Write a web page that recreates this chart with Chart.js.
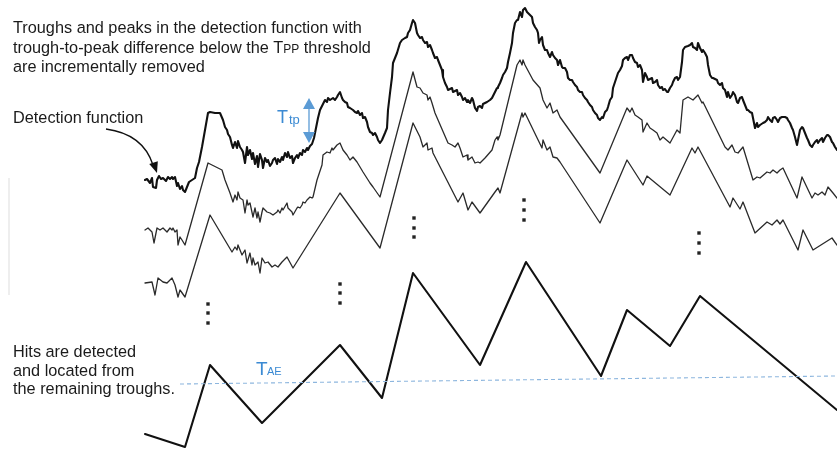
<!DOCTYPE html>
<html>
<head>
<meta charset="utf-8">
<script src="https://cdn.jsdelivr.net/npm/chart.js@4/dist/chart.umd.min.js"></script>
<style>
  html, body { margin: 0; padding: 0; background: #fff; }
</style>
</head>
<body>
<canvas id="myChart" width="837" height="450"></canvas>
<script>
// curves as [sample, level] pairs (level axis runs downward)
const detection = [
  [145,180],[147,179],[150,183],[152,178],[153,187],[156,188],[157,180],[159,176],[161,179],[163,178],
  [166,181],[168,177],[170,179],[172,177],[173,179],[175,177],[177,186],[178,183],[180,189],[182,186],
  [183,190],[185,192],[187,187],[189,182],[192,180],[195,178],[197,168],[199,162],[202,147],[205,130],
  [208,113],[210,112],[215,113],[220,113],[223,120],[225,127],[227,130],[228,134],[230,137],[232,145],
  [233,148],[235,142],[237,148],[238,141],[240,147],[242,150],[243,152],[245,163],[247,147],[248,155],
  [250,150],[252,159],[253,153],[255,164],[257,156],[258,167],[260,154],[262,160],[263,168],[265,158],
  [267,162],[268,160],[270,166],[272,163],[273,160],[275,158],[277,164],[278,159],[280,162],[282,157],
  [283,160],[285,153],[287,157],[288,152],[290,158],[292,156],[293,163],[295,158],[297,155],[298,158],
  [300,153],[302,155],[303,150],[305,152],[307,148],[308,150],[310,146],[312,144],[314,138],[316,128],
  [318,118],[320,110],[322,106],[323,104],[325,100],[327,102],[328,98],[330,100],[333,98],[335,100],
  [337,97],[338,95],[340,92],[342,98],[343,100],[345,102],[347,103],[348,107],[350,108],[353,110],
  [355,112],[357,113],[358,111],[360,115],[362,113],[363,118],[365,117],[367,122],[368,127],[370,132],
  [372,133],[373,135],[375,133],[377,137],[378,140],[380,143],[382,140],[385,133],[387,128],[388,110],
  [390,93],[392,77],[393,63],[397,53],[400,43],[402,40],[405,38],[407,37],[408,33],[410,30],
  [412,23],[413,20],[415,23],[417,33],[418,35],[420,38],[422,37],[423,40],[425,43],[427,42],
  [428,47],[430,45],[432,50],[433,53],[435,58],[437,57],[438,60],[440,65],[442,70],[443,77],
  [445,83],[447,87],[448,90],[452,88],[453,92],[457,90],[458,95],[460,93],[462,97],[463,100],
  [465,98],[467,102],[468,100],[470,103],[472,98],[473,100],[475,108],[477,111],[478,107],[480,106],
  [482,108],[483,104],[485,103],[487,102],[490,100],[492,98],[493,96],[495,92],[497,88],[498,87],
  [500,83],[502,78],[503,75],[505,72],[507,68],[508,62],[510,53],[512,43],[513,33],[515,23],
  [517,20],[518,20],[520,12],[522,17],[523,10],[525,8],[527,12],[528,13],[530,15],[532,17],
  [533,23],[535,27],[537,30],[538,33],[539,43],[540,40],[542,37],[543,45],[545,50],[547,50],
  [548,53],[550,57],[552,52],[553,55],[555,58],[557,60],[558,65],[560,60],[562,67],[563,68],
  [565,68],[567,72],[568,78],[570,80],[572,80],[573,82],[575,85],[577,87],[578,90],[580,92],
  [582,92],[583,95],[585,98],[587,100],[588,102],[590,105],[592,107],[593,110],[595,113],[597,115],
  [598,118],[600,120],[602,117],[603,118],[605,112],[607,110],[608,107],[610,100],[612,97],[613,88],
  [615,82],[618,73],[620,70],[622,66],[623,60],[625,58],[627,57],[628,60],[630,55],[632,55],
  [633,58],[635,62],[637,63],[638,67],[640,65],[642,70],[643,82],[645,73],[647,77],[648,80],
  [652,78],[653,83],[655,82],[657,80],[658,85],[660,88],[662,87],[663,90],[665,89],[667,92],
  [668,92],[670,88],[672,85],[673,82],[675,78],[677,77],[678,80],[680,77],[682,62],[683,50],
  [685,47],[688,46],[690,45],[692,43],[693,47],[695,48],[697,50],[698,43],[700,48],[702,52],
  [703,50],[705,53],[707,57],[708,65],[710,75],[712,78],[713,78],[717,80],[718,83],[720,85],
  [722,83],[723,88],[725,90],[727,97],[728,92],[730,98],[732,95],[733,92],[735,95],[737,102],
  [738,103],[740,98],[742,97],[743,100],[745,105],[747,110],[748,110],[750,112],[752,113],[753,118],
  [755,128],[757,123],[758,127],[760,125],[763,123],[765,122],[767,120],[768,117],[770,120],[772,122],
  [773,118],[775,117],[777,120],[778,122],[780,118],[782,117],[785,117],[787,118],[788,120],[790,123],
  [792,128],[793,130],[795,137],[797,145],[798,140],[800,130],[802,127],[803,128],[805,133],[807,138],
  [808,140],[810,145],[812,147],[813,145],[815,142],[817,140],[818,143],[820,140],[822,138],[823,142],
  [825,138],[827,135],[828,135],[830,137],[832,142],[833,143],[835,147],[837,150]
];

const firstPass = [
  [145,230],[148,228],[152,232],[154,243],[157,228],[160,230],[163,228],[167,232],[170,228],[172,230],
  [173,228],[175,232],[177,230],[178,245],[180,237],[182,240],[185,245],[208,163],[222,170],[225,180],
  [230,193],[233,202],[235,195],[237,200],[238,192],[240,198],[243,200],[245,213],[247,200],[248,205],
  [250,203],[253,217],[255,208],[257,218],[258,212],[260,222],[262,212],[263,208],[267,212],[270,213],
  [273,215],[277,212],[278,210],[280,213],[282,208],[283,210],[287,203],[288,208],[292,212],[293,215],
  [297,208],[298,207],[300,208],[302,205],[303,202],[305,203],[307,200],[310,197],[312,198],[313,197],
  [317,180],[322,165],[323,155],[327,152],[330,153],[332,148],[333,150],[337,145],[340,143],[343,150],
  [347,155],[350,160],[353,157],[357,162],[363,172],[370,183],[373,187],[380,197],[413,72],[417,87],
  [420,88],[423,93],[427,95],[428,100],[430,97],[432,103],[435,113],[448,143],[452,145],[455,147],
  [458,143],[460,148],[463,157],[467,155],[468,160],[472,157],[475,163],[478,162],[480,163],[485,158],
  [492,150],[495,140],[497,137],[498,140],[500,135],[517,65],[520,60],[522,65],[523,60],[525,65],
  [533,80],[540,88],[543,100],[547,108],[550,103],[553,113],[557,110],[560,117],[600,173],[627,108],
  [630,112],[632,108],[635,115],[638,117],[642,120],[643,132],[647,123],[650,128],[653,130],[657,133],
  [660,140],[663,137],[670,143],[677,130],[680,133],[683,100],[688,97],[693,100],[698,95],[702,103],
  [703,102],[725,147],[728,150],[732,145],[735,152],[738,153],[743,147],[753,180],[757,177],[760,178],
  [767,172],[770,173],[773,170],[777,173],[780,170],[783,168],[797,198],[802,177],[812,198],[815,193],
  [818,195],[822,192],[825,195],[828,187],[833,193],[837,198]
];

const secondPass = [
  [145,283],[152,282],[155,295],[158,278],[163,282],[167,283],[172,278],[175,285],[178,297],[180,290],
  [185,297],[210,215],[232,252],[235,247],[237,250],[238,245],[242,255],[245,250],[247,263],[250,253],
  [252,265],[253,258],[255,265],[258,262],[260,273],[262,258],[265,263],[268,262],[272,267],[275,265],
  [278,267],[282,262],[287,257],[293,268],[340,193],[380,248],[413,123],[420,137],[423,147],[427,143],
  [428,150],[432,148],[433,153],[458,202],[463,193],[468,210],[472,202],[480,213],[495,192],[498,188],
  [500,193],[522,113],[523,117],[525,113],[542,148],[543,140],[547,150],[550,147],[553,157],[557,158],
  [560,162],[600,223],[627,160],[643,185],[647,176],[670,195],[692,148],[695,153],[698,147],[730,207],
  [733,198],[740,209],[743,202],[755,233],[767,222],[772,225],[777,220],[780,224],[783,220],[798,250],
  [803,230],[813,250],[832,238],[837,245]
];

const hits = [
  [145,434],[185,447],[210,365],[262,423],[340,345],[382,398],[413,273],
  [480,365],[526,262],[601,376],[627,310],[670,346],[700,296],[837,410]
];

const thresholdAE = [[180,384],[837,376]];

// vertical ellipses between the stages
const dotsX = [208, 208, 208, 340, 340, 340, 414, 414, 414, 524, 524, 524, 699, 699, 699];
const dotsY = [304, 313, 323, 284, 293, 303, 218, 228, 237, 200, 210, 220, 233, 243, 253];

// Ttp arrow: sample, top level, bottom level
const ttpArrow = [309, 98, 143];

const toPoints = arr => arr.map(([x, y]) => ({ x, y }));

const FONT = "'Liberation Sans', Arial, sans-serif";
const BLUE = "#3b8ad3";

function drawArrowHead(ctx, x, y, angle, len, half) {
  ctx.beginPath();
  ctx.moveTo(x, y);
  ctx.lineTo(x - len * Math.cos(angle) + half * Math.sin(angle), y - len * Math.sin(angle) - half * Math.cos(angle));
  ctx.lineTo(x - len * Math.cos(angle) - half * Math.sin(angle), y - len * Math.sin(angle) + half * Math.cos(angle));
  ctx.closePath();
  ctx.fill();
}

const annotations = {
  id: "annotations",
  afterDraw(chart) {
    const { ctx, scales } = chart;
    const sx = v => scales.x.getPixelForValue(v);
    const sy = v => scales.y.getPixelForValue(v);
    ctx.save();

    // faint scan edge on the left
    ctx.strokeStyle = "#e8e8e8";
    ctx.lineWidth = 1.5;
    ctx.beginPath();
    ctx.moveTo(9, 178);
    ctx.lineTo(9, 295);
    ctx.stroke();

    ctx.fillStyle = "#1b1b1b";
    ctx.textBaseline = "alphabetic";
    ctx.font = "16.3px " + FONT;
    ctx.fillText("Troughs and peaks in the detection function with", 13, 33);
    let line2 = "trough-to-peak difference below the T";
    ctx.fillText(line2, 13, 53);
    let w = ctx.measureText(line2).width;
    ctx.font = "12px " + FONT;
    ctx.fillText("PP", 13 + w, 53);
    w += ctx.measureText("PP").width;
    ctx.font = "16.3px " + FONT;
    ctx.fillText(" threshold", 13 + w, 53);
    ctx.fillText("are incrementally removed", 13, 72);

    ctx.fillText("Detection function", 13, 123);

    ctx.fillText("Hits are detected", 13, 357);
    ctx.fillText("and located from", 13, 376);
    ctx.fillText("the remaining troughs.", 13, 394);

    // curved pointer to the detection function
    ctx.strokeStyle = "#111";
    ctx.fillStyle = "#111";
    ctx.lineWidth = 1.4;
    ctx.beginPath();
    ctx.moveTo(106, 129);
    ctx.quadraticCurveTo(143, 134, 153, 165);
    ctx.stroke();
    drawArrowHead(ctx, 157, 173, Math.atan2(9, 3), 11, 4.5);

    // Ttp double arrow
    const ax = sx(ttpArrow[0]);
    const top = sy(ttpArrow[1]);
    const bot = sy(ttpArrow[2]);
    ctx.strokeStyle = "#5b9bd5";
    ctx.fillStyle = "#5b9bd5";
    ctx.lineWidth = 1.3;
    ctx.beginPath();
    ctx.moveTo(ax, top + 8);
    ctx.lineTo(ax, bot - 8);
    ctx.stroke();
    drawArrowHead(ctx, ax, top, -Math.PI / 2, 11, 6);
    drawArrowHead(ctx, ax, bot, Math.PI / 2, 11, 6);

    ctx.fillStyle = BLUE;
    ctx.font = "18px " + FONT;
    ctx.fillText("T", 277, 123);
    ctx.font = "13px " + FONT;
    ctx.fillText("tp", 289, 124);

    ctx.font = "19px " + FONT;
    ctx.fillText("T", 256, 375);
    ctx.font = "11px " + FONT;
    ctx.fillText("AE", 267, 375);

    ctx.restore();
  }
};

document.addEventListener("DOMContentLoaded", () => {
  const ctx = document.getElementById("myChart");

  if (!ctx) {
    console.error("Canvas element 'myChart' not found");
    return;
  }

  const line = (data, color, width) => ({
    data: toPoints(data),
    showLine: true,
    borderColor: color,
    borderWidth: width,
    pointRadius: 0,
    pointHoverRadius: 0,
    fill: false,
    tension: 0,
    clip: false,
    borderJoinStyle: "round",
    borderCapStyle: "round"
  });

  new Chart(ctx, {
    type: "scatter",
    data: {
      datasets: [
        Object.assign(line(thresholdAE, "#8db6de", 1.1), { borderDash: [4, 3], borderCapStyle: "butt" }),
        line(detection, "#111111", 2.1),
        line(firstPass, "#2a2a2a", 1.3),
        line(secondPass, "#2a2a2a", 1.3),
        line(hits, "#111111", 2.1),
        {
          data: dotsX.map((x, i) => ({ x, y: dotsY[i] })),
          pointStyle: "rect",
          pointRadius: 2.4,
          pointHoverRadius: 2.4,
          backgroundColor: "#222",
          borderWidth: 0,
          showLine: false,
          clip: false
        }
      ]
    },
    options: {
      responsive: false,
      animation: false,
      devicePixelRatio: 1,
      events: [],
      layout: { padding: 0, autoPadding: false },
      plugins: {
        legend: { display: false },
        tooltip: { enabled: false }
      },
      scales: {
        x: { type: "linear", min: 0, max: 837, display: false },
        y: { type: "linear", min: 0, max: 450, reverse: true, display: false }
      }
    },
    plugins: [annotations]
  });
});
</script>
</body>
</html>
